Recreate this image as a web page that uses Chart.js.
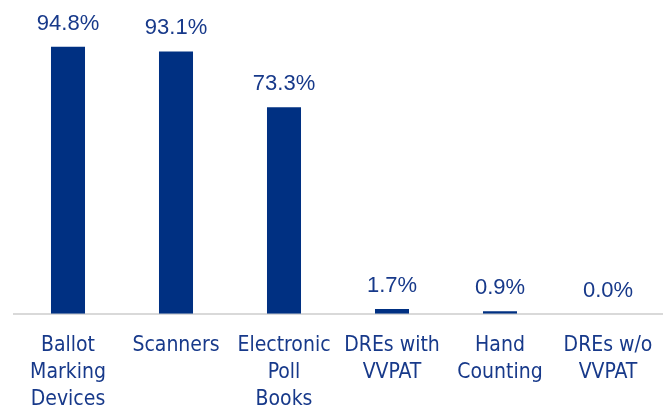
<!DOCTYPE html>
<html>
<head>
<meta charset="utf-8">
<script src="https://cdn.jsdelivr.net/npm/chart.js@4"></script>
<style>
  html, body { margin: 0; padding: 0; background: #fff; }
  #wrap { width: 672px; height: 409px; }
</style>
</head>
<body>
<div id="wrap"><canvas id="chart" width="672" height="409"></canvas></div>
<script>
const categories = [
  ["Ballot", "Marking", "Devices"],
  ["Scanners"],
  ["Electronic", "Poll", "Books"],
  ["DREs with", "VVPAT"],
  ["Hand", "Counting"],
  ["DREs w/o", "VVPAT"]
];
const shares = [94.8, 93.1, 73.3, 1.7, 0.9, 0.0];

const navy = "#003082";
const textNavy = "#17398a";

// draws the percentage above each bar
const valueLabels = {
  id: "valueLabels",
  afterDatasetsDraw(chart) {
    const ctx = chart.ctx;
    const meta = chart.getDatasetMeta(0);
    ctx.save();
    ctx.font = "22px 'Liberation Sans', Arial, sans-serif";
    ctx.fillStyle = textNavy;
    ctx.textAlign = "center";
    ctx.textBaseline = "alphabetic";
    meta.data.forEach((bar, i) => {
      ctx.fillText(shares[i].toFixed(1) + "%", bar.x, bar.y - 17);
    });
    ctx.restore();
  }
};

new Chart(document.getElementById("chart"), {
  type: "bar",
  data: {
    labels: categories,
    datasets: [{
      data: shares,
      backgroundColor: navy,
      borderWidth: 0,
      categoryPercentage: 1,
      barPercentage: 0.315
    }]
  },
  options: {
    responsive: false,
    animation: false,
    layout: { padding: { left: 14, right: 10, top: 32, bottom: -22 } },
    plugins: { legend: { display: false }, tooltip: { enabled: false } },
    scales: {
      x: {
        grid: { display: false, drawTicks: false },
        border: { display: true, color: "#d9d9d9", width: 2 },
        ticks: {
          color: textNavy,
          padding: 18,
          maxRotation: 0,
          autoSkip: false,
          font: { family: "'Liberation Sans Narrow', 'DejaVu Sans Condensed', 'Arial Narrow', sans-serif", size: 21, lineHeight: 1.29 }
        }
      },
      y: {
        display: false,
        min: 0,
        max: 100
      }
    }
  },
  plugins: [valueLabels]
});
</script>
</body>
</html>
